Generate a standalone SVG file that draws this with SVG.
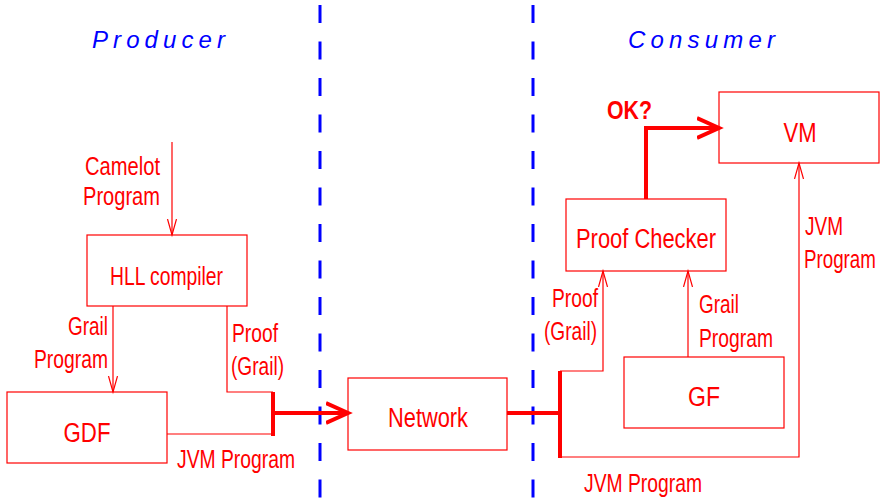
<svg xmlns="http://www.w3.org/2000/svg" width="882" height="499" viewBox="0 0 882 499">
  <style>
    .box { fill: none; stroke: #ff0000; stroke-width: 1.2; }
    .thin { fill: none; stroke: #ff0000; stroke-width: 1.2; }
    .thick { fill: none; stroke: #ff0000; stroke-width: 4; }
    .lbl { font-family: "Liberation Sans", Arial, sans-serif; fill: #ff0000; font-size: 25px; }
    .name { font-family: "Liberation Sans", Arial, sans-serif; fill: #ff0000; font-size: 27px; }
    .side { font-family: "Liberation Sans", Arial, sans-serif; fill: #0000ff; font-size: 24px; font-style: italic; }
    .divider { stroke: #0000ff; stroke-width: 3; stroke-dasharray: 18 18.5; }
  </style>
  <defs>
    <marker id="open" markerUnits="userSpaceOnUse" markerWidth="20" markerHeight="12" refX="16" refY="5" orient="auto">
      <path d="M0,0.5 L16,5 L0,9.5" fill="none" stroke="#ff0000" stroke-width="1.2"/>
    </marker>
    <marker id="bold" markerUnits="userSpaceOnUse" markerWidth="28" markerHeight="28" refX="22" refY="12" orient="auto">
      <path d="M0,2 L22,12 L0,22" fill="none" stroke="#ff0000" stroke-width="4"/>
    </marker>
  </defs>

  <!-- dashed dividers between producer, network and consumer -->
  <g id="dividers">
    <line class="divider" x1="320" y1="5" x2="320" y2="499"/>
    <line class="divider" x1="533" y1="5" x2="533" y2="499"/>
  </g>

  <text class="side" x="92" y="48" textLength="133" lengthAdjust="spacing">Producer</text>
  <text class="side" x="628" y="48" textLength="147" lengthAdjust="spacing">Consumer</text>

  <!-- nodes -->
  <g id="hll">
    <rect class="box" x="87" y="235" width="160" height="71"/>
    <text class="lbl" x="110" y="285" textLength="113" lengthAdjust="spacingAndGlyphs">HLL compiler</text>
  </g>
  <g id="gdf">
    <rect class="box" x="7" y="392" width="160" height="71"/>
    <text class="name" x="87" y="442" text-anchor="middle" textLength="47" lengthAdjust="spacingAndGlyphs">GDF</text>
  </g>
  <g id="network">
    <rect class="box" x="348" y="378" width="159" height="72"/>
    <text class="name" x="388" y="427" textLength="80" lengthAdjust="spacingAndGlyphs">Network</text>
  </g>
  <g id="proof-checker">
    <rect class="box" x="566" y="199" width="160" height="72"/>
    <text class="name" x="576" y="248" textLength="140" lengthAdjust="spacingAndGlyphs">Proof Checker</text>
  </g>
  <g id="vm">
    <rect class="box" x="719" y="92" width="160" height="71"/>
    <text class="name" x="800" y="142" text-anchor="middle" textLength="33" lengthAdjust="spacingAndGlyphs">VM</text>
  </g>
  <g id="gf">
    <rect class="box" x="624" y="357" width="160" height="71"/>
    <text class="name" x="704" y="406" text-anchor="middle" textLength="32" lengthAdjust="spacingAndGlyphs">GF</text>
  </g>

  <!-- connectors -->
  <g id="connectors">
    <line class="thin" x1="172" y1="142" x2="172" y2="235" marker-end="url(#open)"/>
    <line class="thin" x1="113" y1="306" x2="113" y2="392" marker-end="url(#open)"/>
    <polyline class="thin" points="227,306 227,392 273,392"/>
    <polyline class="thin" points="167,434 273,434"/>
    <line class="thick" x1="273" y1="392" x2="273" y2="436"/>
    <line class="thick" x1="273" y1="413" x2="348" y2="413" marker-end="url(#bold)"/>
    <line class="thick" x1="507" y1="413" x2="560" y2="413"/>
    <line class="thick" x1="560" y1="371" x2="560" y2="458"/>
    <polyline class="thin" points="560,371 603,371 603,271" marker-end="url(#open)"/>
    <polyline class="thin" points="560,457 799,457 799,163" marker-end="url(#open)"/>
    <line class="thin" x1="688" y1="357" x2="688" y2="271" marker-end="url(#open)"/>
    <polyline class="thick" points="646,199 646,128 719,128" marker-end="url(#bold)"/>
  </g>

  <!-- connector labels -->
  <g id="labels">
    <text class="lbl" x="85" y="175" textLength="75" lengthAdjust="spacingAndGlyphs">Camelot</text>
    <text class="lbl" x="83" y="205" textLength="77" lengthAdjust="spacingAndGlyphs">Program</text>
    <text class="lbl" x="68" y="335" textLength="40" lengthAdjust="spacingAndGlyphs">Grail</text>
    <text class="lbl" x="34" y="368" textLength="74" lengthAdjust="spacingAndGlyphs">Program</text>
    <text class="lbl" x="232" y="342" textLength="46" lengthAdjust="spacingAndGlyphs">Proof</text>
    <text class="lbl" x="231" y="375" textLength="53" lengthAdjust="spacingAndGlyphs">(Grail)</text>
    <text class="lbl" x="177" y="468" textLength="118" lengthAdjust="spacingAndGlyphs">JVM Program</text>
    <text class="lbl" x="552" y="307" textLength="46" lengthAdjust="spacingAndGlyphs">Proof</text>
    <text class="lbl" x="544" y="340" textLength="53" lengthAdjust="spacingAndGlyphs">(Grail)</text>
    <text class="lbl" x="699" y="313" textLength="40" lengthAdjust="spacingAndGlyphs">Grail</text>
    <text class="lbl" x="699" y="347" textLength="74" lengthAdjust="spacingAndGlyphs">Program</text>
    <text class="lbl" x="805" y="235" textLength="38" lengthAdjust="spacingAndGlyphs">JVM</text>
    <text class="lbl" transform="translate(804,268) scale(0.75,1)" x="0" y="0">Program</text>
    <text class="lbl" x="584" y="492" textLength="118" lengthAdjust="spacingAndGlyphs">JVM Program</text>
    <text class="lbl" x="607" y="119" font-weight="bold" font-size="26" textLength="45" lengthAdjust="spacingAndGlyphs">OK?</text>
  </g>
</svg>
